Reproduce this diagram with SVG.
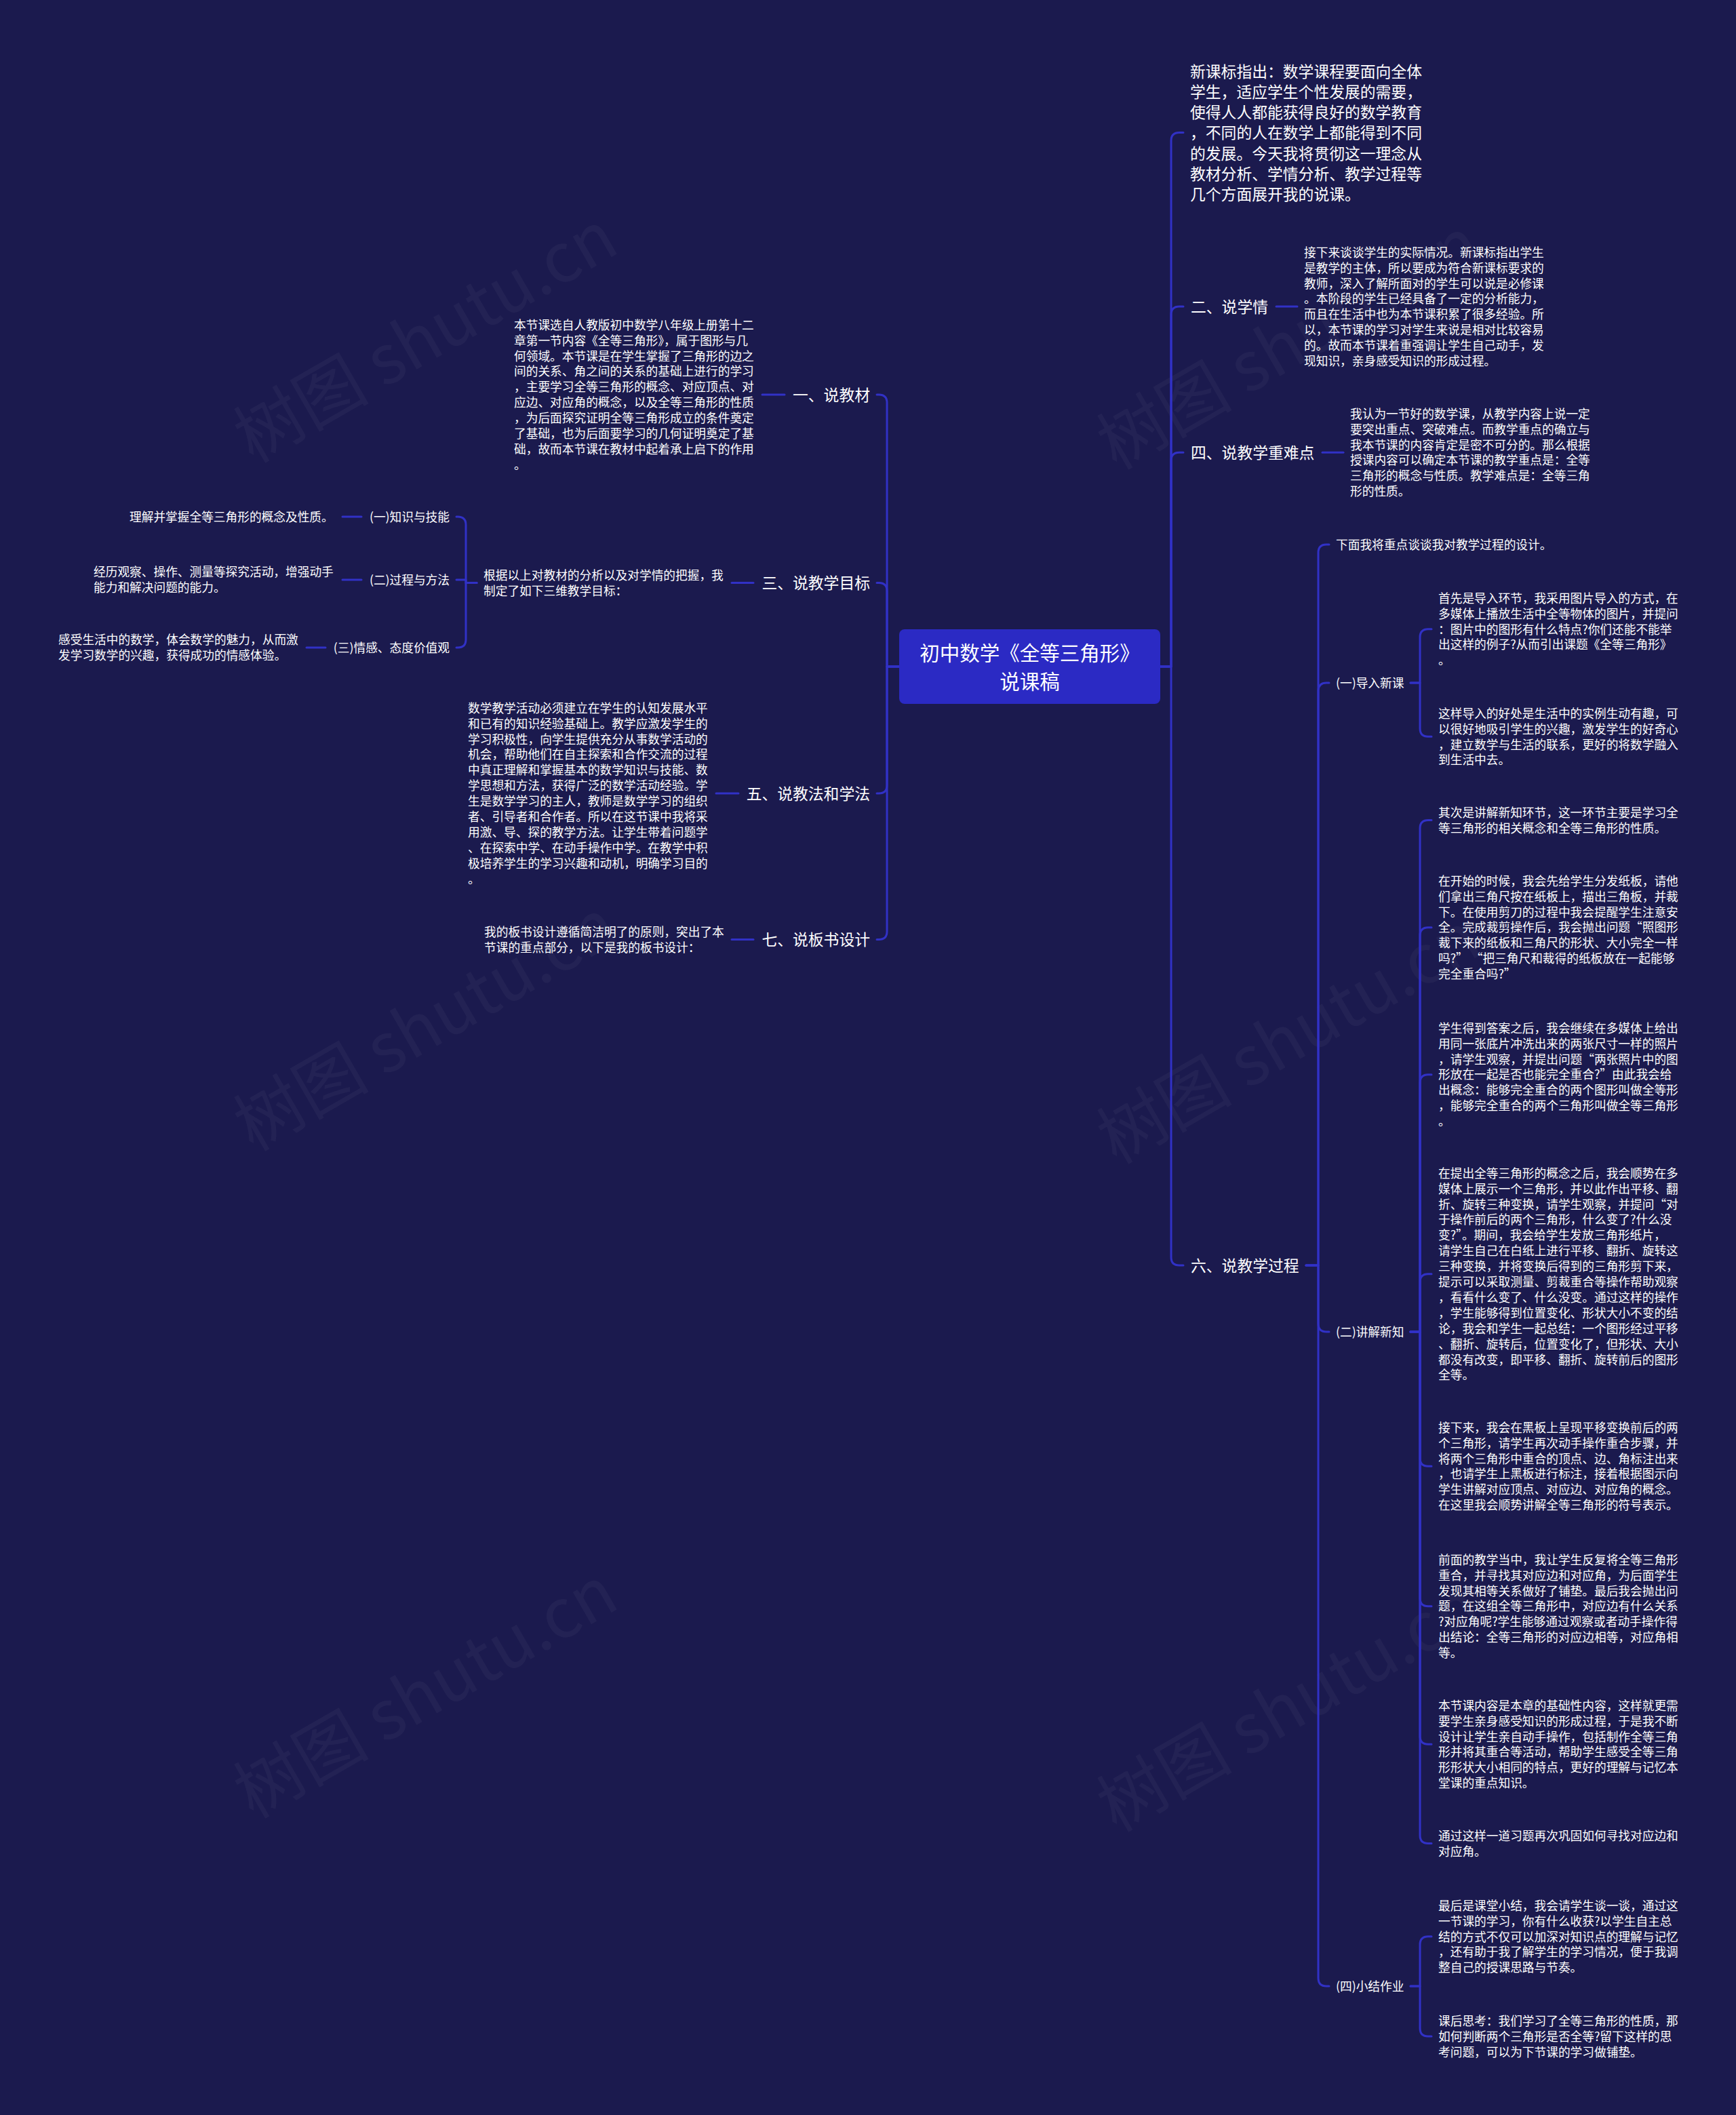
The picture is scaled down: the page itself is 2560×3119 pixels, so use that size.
<svg xmlns="http://www.w3.org/2000/svg" width="2560" height="3119" viewBox="0 0 2560 3119">
<style>
.t{font-family:"Noto Sans CJK SC","Noto Sans",sans-serif;fill:#ffffff;font-size:17.7px}
.lab{font-size:22.8px}
.big{font-size:22.8px}
.root{font-size:29.5px;text-anchor:middle}
.end{text-anchor:end}
.ln{fill:none;stroke:#3131c6;stroke-width:3;stroke-linecap:round;stroke-linejoin:round}
.wm{font-family:"Noto Sans CJK SC","Noto Sans",sans-serif;font-size:100px;fill:#ffffff;fill-opacity:0.04;text-anchor:middle}
</style>
<rect width="2560" height="3119" fill="#1b1a4e"/>
<g id="watermarks">
<text class="wm" transform="translate(645,527) rotate(-30)">树图 shutu.cn</text>
<text class="wm" transform="translate(1918,537) rotate(-30)">树图 shutu.cn</text>
<text class="wm" transform="translate(645,1542) rotate(-30)">树图 shutu.cn</text>
<text class="wm" transform="translate(1918,1561) rotate(-30)">树图 shutu.cn</text>
<text class="wm" transform="translate(645,2526) rotate(-30)">树图 shutu.cn</text>
<text class="wm" transform="translate(1918,2546) rotate(-30)">树图 shutu.cn</text>
</g>
<g id="connectors">
<path class="ln" d="M1711 983 H1727 V207.6 Q1727 195.6 1739 195.6 H1745"/>
<path class="ln" d="M1711 983 H1727 V464 Q1727 452 1739 452 H1745"/>
<path class="ln" d="M1711 983 H1727 V679.25 Q1727 667.25 1739 667.25 H1745"/>
<path class="ln" d="M1711 983 H1727 V1854 Q1727 1866 1739 1866 H1745"/>
<path class="ln" d="M1882 452 H1913"/>
<path class="ln" d="M1950 667.25 H1981"/>
<path class="ln" d="M1926 1866 H1944 V815 Q1944 803 1956 803 H1960"/>
<path class="ln" d="M1926 1866 H1944 V1019 Q1944 1007 1956 1007 H1960"/>
<path class="ln" d="M1926 1866 H1944 V1952 Q1944 1964 1956 1964 H1960"/>
<path class="ln" d="M1926 1866 H1944 V2917 Q1944 2929 1956 2929 H1960"/>
<path class="ln" d="M2080 1007 H2094 V939.8 Q2094 927.8 2106 927.8 H2111"/>
<path class="ln" d="M2080 1007 H2094 V1074.35 Q2094 1086.35 2106 1086.35 H2111"/>
<path class="ln" d="M2080 1964 H2094 V1221.45 Q2094 1209.45 2106 1209.45 H2111"/>
<path class="ln" d="M2080 1964 H2094 V1379.7 Q2094 1367.7 2106 1367.7 H2111"/>
<path class="ln" d="M2080 1964 H2094 V1596.7 Q2094 1584.7 2106 1584.7 H2111"/>
<path class="ln" d="M2080 1964 H2094 V1890.85 Q2094 1878.85 2106 1878.85 H2111"/>
<path class="ln" d="M2080 1964 H2094 V2150.25 Q2094 2162.25 2106 2162.25 H2111"/>
<path class="ln" d="M2080 1964 H2094 V2356.7 Q2094 2368.7 2106 2368.7 H2111"/>
<path class="ln" d="M2080 1964 H2094 V2560.25 Q2094 2572.25 2106 2572.25 H2111"/>
<path class="ln" d="M2080 1964 H2094 V2706.45 Q2094 2718.45 2106 2718.45 H2111"/>
<path class="ln" d="M2080 2929 H2094 V2867.8 Q2094 2855.8 2106 2855.8 H2111"/>
<path class="ln" d="M2080 2929 H2094 V2990.9 Q2094 3002.9 2106 3002.9 H2111"/>
<path class="ln" d="M1326 983 H1308 V594 Q1308 582 1296 582 H1293"/>
<path class="ln" d="M1326 983 H1308 V871.45 Q1308 859.45 1296 859.45 H1293"/>
<path class="ln" d="M1326 983 H1308 V1158 Q1308 1170 1296 1170 H1293"/>
<path class="ln" d="M1326 983 H1308 V1373.45 Q1308 1385.45 1296 1385.45 H1293"/>
<path class="ln" d="M1157 582 H1124"/>
<path class="ln" d="M1111 859.45 H1079"/>
<path class="ln" d="M1089 1170 H1056"/>
<path class="ln" d="M1111 1385.45 H1079"/>
<path class="ln" d="M703 859.45 H687 V774 Q687 762 675 762 H673"/>
<path class="ln" d="M703 859.45 H687 V855 H673"/>
<path class="ln" d="M703 859.45 H687 V943 Q687 955 675 955 H673"/>
<path class="ln" d="M533 762 H505"/>
<path class="ln" d="M533 855 H505"/>
<path class="ln" d="M480 955 H452"/>
</g>
<g id="root">
<rect x="1326" y="928" width="385" height="110" rx="8" fill="#2b2ac4"/>
<text class="t root" x="1518.5" y="974.2">初中数学《全等三角形》</text>
<text class="t root" x="1518.5" y="1016.2">说课稿</text>
</g>
<g id="intro">
<text class="t big"><tspan x="1755" y="113.7">新课标指出：数学课程要面向全体</tspan><tspan x="1755" y="143.9">学生，适应学生个性发展的需要，</tspan><tspan x="1755" y="174.1">使得人人都能获得良好的数学教育</tspan><tspan x="1755" y="204.3">，不同的人在数学上都能得到不同</tspan><tspan x="1755" y="234.5">的发展。今天我将贯彻这一理念从</tspan><tspan x="1755" y="264.7">教材分析、学情分析、教学过程等</tspan><tspan x="1755" y="294.9">几个方面展开我的说课。</tspan></text>
</g>
<g id="n2">
<text class="t lab" x="1756" y="460.7">二、说学情</text>
</g>
<g id="n2-text">
<text class="t"><tspan x="1923" y="378.7">接下来谈谈学生的实际情况。新课标指出学生</tspan><tspan x="1923" y="401.6">是教学的主体，所以要成为符合新课标要求的</tspan><tspan x="1923" y="424.5">教师，深入了解所面对的学生可以说是必修课</tspan><tspan x="1923" y="447.4">。本阶段的学生已经具备了一定的分析能力，</tspan><tspan x="1923" y="470.3">而且在生活中也为本节课积累了很多经验。所</tspan><tspan x="1923" y="493.2">以，本节课的学习对学生来说是相对比较容易</tspan><tspan x="1923" y="516.1">的。故而本节课着重强调让学生自己动手，发</tspan><tspan x="1923" y="539">现知识，亲身感受知识的形成过程。</tspan></text>
</g>
<g id="n4">
<text class="t lab" x="1756" y="675.9">四、说教学重难点</text>
</g>
<g id="n4-text">
<text class="t"><tspan x="1991" y="616.7">我认为一节好的数学课，从教学内容上说一定</tspan><tspan x="1991" y="639.6">要突出重点、突破难点。而教学重点的确立与</tspan><tspan x="1991" y="662.5">我本节课的内容肯定是密不可分的。那么根据</tspan><tspan x="1991" y="685.4">授课内容可以确定本节课的教学重点是：全等</tspan><tspan x="1991" y="708.3">三角形的概念与性质。教学难点是：全等三角</tspan><tspan x="1991" y="731.2">形的性质。</tspan></text>
</g>
<g id="n6">
<text class="t lab" x="1756" y="1874.7">六、说教学过程</text>
</g>
<g id="n6-intro">
<text class="t" x="1970" y="809.7">下面我将重点谈谈我对教学过程的设计。</text>
</g>
<g id="n6-1">
<text class="t" x="1970" y="1013.7">(一)导入新课</text>
</g>
<g id="n6-1a">
<text class="t"><tspan x="2121" y="888.7">首先是导入环节，我采用图片导入的方式，在</tspan><tspan x="2121" y="911.6">多媒体上播放生活中全等物体的图片，并提问</tspan><tspan x="2121" y="934.5">：图片中的图形有什么特点?你们还能不能举</tspan><tspan x="2121" y="957.4">出这样的例子?从而引出课题《全等三角形》</tspan><tspan x="2121" y="980.3">。</tspan></text>
</g>
<g id="n6-1b">
<text class="t"><tspan x="2121" y="1058.7">这样导入的好处是生活中的实例生动有趣，可</tspan><tspan x="2121" y="1081.6">以很好地吸引学生的兴趣，激发学生的好奇心</tspan><tspan x="2121" y="1104.5">，建立数学与生活的联系，更好的将数学融入</tspan><tspan x="2121" y="1127.4">到生活中去。</tspan></text>
</g>
<g id="n6-2">
<text class="t" x="1970" y="1970.7">(二)讲解新知</text>
</g>
<g id="n6-2a">
<text class="t"><tspan x="2121" y="1204.7">其次是讲解新知环节，这一环节主要是学习全</tspan><tspan x="2121" y="1227.6">等三角形的相关概念和全等三角形的性质。</tspan></text>
</g>
<g id="n6-2b">
<text class="t"><tspan x="2121" y="1305.7">在开始的时候，我会先给学生分发纸板，请他</tspan><tspan x="2121" y="1328.6">们拿出三角尺按在纸板上，描出三角板，并裁</tspan><tspan x="2121" y="1351.5">下。在使用剪刀的过程中我会提醒学生注意安</tspan><tspan x="2121" y="1374.4">全。完成裁剪操作后，我会抛出问题“照图形</tspan><tspan x="2121" y="1397.3">裁下来的纸板和三角尺的形状、大小完全一样</tspan><tspan x="2121" y="1420.2">吗?” “把三角尺和裁得的纸板放在一起能够</tspan><tspan x="2121" y="1443.1">完全重合吗?”</tspan></text>
</g>
<g id="n6-2c">
<text class="t"><tspan x="2121" y="1522.7">学生得到答案之后，我会继续在多媒体上给出</tspan><tspan x="2121" y="1545.6">用同一张底片冲洗出来的两张尺寸一样的照片</tspan><tspan x="2121" y="1568.5">，请学生观察，并提出问题“两张照片中的图</tspan><tspan x="2121" y="1591.4">形放在一起是否也能完全重合?”由此我会给</tspan><tspan x="2121" y="1614.3">出概念：能够完全重合的两个图形叫做全等形</tspan><tspan x="2121" y="1637.2">，能够完全重合的两个三角形叫做全等三角形</tspan><tspan x="2121" y="1660.1">。</tspan></text>
</g>
<g id="n6-2d">
<text class="t"><tspan x="2121" y="1736.7">在提出全等三角形的概念之后，我会顺势在多</tspan><tspan x="2121" y="1759.6">媒体上展示一个三角形，并以此作出平移、翻</tspan><tspan x="2121" y="1782.5">折、旋转三种变换，请学生观察，并提问“对</tspan><tspan x="2121" y="1805.4">于操作前后的两个三角形，什么变了?什么没</tspan><tspan x="2121" y="1828.3">变?”。期间，我会给学生发放三角形纸片，</tspan><tspan x="2121" y="1851.2">请学生自己在白纸上进行平移、翻折、旋转这</tspan><tspan x="2121" y="1874.1">三种变换，并将变换后得到的三角形剪下来，</tspan><tspan x="2121" y="1897">提示可以采取测量、剪裁重合等操作帮助观察</tspan><tspan x="2121" y="1919.9">，看看什么变了、什么没变。通过这样的操作</tspan><tspan x="2121" y="1942.8">，学生能够得到位置变化、形状大小不变的结</tspan><tspan x="2121" y="1965.7">论，我会和学生一起总结：一个图形经过平移</tspan><tspan x="2121" y="1988.6">、翻折、旋转后，位置变化了，但形状、大小</tspan><tspan x="2121" y="2011.5">都没有改变，即平移、翻折、旋转前后的图形</tspan><tspan x="2121" y="2034.4">全等。</tspan></text>
</g>
<g id="n6-2e">
<text class="t"><tspan x="2121" y="2111.7">接下来，我会在黑板上呈现平移变换前后的两</tspan><tspan x="2121" y="2134.6">个三角形，请学生再次动手操作重合步骤，并</tspan><tspan x="2121" y="2157.5">将两个三角形中重合的顶点、边、角标注出来</tspan><tspan x="2121" y="2180.4">，也请学生上黑板进行标注，接着根据图示向</tspan><tspan x="2121" y="2203.3">学生讲解对应顶点、对应边、对应角的概念。</tspan><tspan x="2121" y="2226.2">在这里我会顺势讲解全等三角形的符号表示。</tspan></text>
</g>
<g id="n6-2f">
<text class="t"><tspan x="2121" y="2306.7">前面的教学当中，我让学生反复将全等三角形</tspan><tspan x="2121" y="2329.6">重合，并寻找其对应边和对应角，为后面学生</tspan><tspan x="2121" y="2352.5">发现其相等关系做好了铺垫。最后我会抛出问</tspan><tspan x="2121" y="2375.4">题，在这组全等三角形中，对应边有什么关系</tspan><tspan x="2121" y="2398.3">?对应角呢?学生能够通过观察或者动手操作得</tspan><tspan x="2121" y="2421.2">出结论：全等三角形的对应边相等，对应角相</tspan><tspan x="2121" y="2444.1">等。</tspan></text>
</g>
<g id="n6-2g">
<text class="t"><tspan x="2121" y="2521.7">本节课内容是本章的基础性内容，这样就更需</tspan><tspan x="2121" y="2544.6">要学生亲身感受知识的形成过程，于是我不断</tspan><tspan x="2121" y="2567.5">设计让学生亲自动手操作，包括制作全等三角</tspan><tspan x="2121" y="2590.4">形并将其重合等活动，帮助学生感受全等三角</tspan><tspan x="2121" y="2613.3">形形状大小相同的特点，更好的理解与记忆本</tspan><tspan x="2121" y="2636.2">堂课的重点知识。</tspan></text>
</g>
<g id="n6-2h">
<text class="t"><tspan x="2121" y="2713.7">通过这样一道习题再次巩固如何寻找对应边和</tspan><tspan x="2121" y="2736.6">对应角。</tspan></text>
</g>
<g id="n6-4">
<text class="t" x="1970" y="2936">(四)小结作业</text>
</g>
<g id="n6-4a">
<text class="t"><tspan x="2121" y="2816.7">最后是课堂小结，我会请学生谈一谈，通过这</tspan><tspan x="2121" y="2839.6">一节课的学习，你有什么收获?以学生自主总</tspan><tspan x="2121" y="2862.5">结的方式不仅可以加深对知识点的理解与记忆</tspan><tspan x="2121" y="2885.4">，还有助于我了解学生的学习情况，便于我调</tspan><tspan x="2121" y="2908.3">整自己的授课思路与节奏。</tspan></text>
</g>
<g id="n6-4b">
<text class="t"><tspan x="2121" y="2986.7">课后思考：我们学习了全等三角形的性质，那</tspan><tspan x="2121" y="3009.6">如何判断两个三角形是否全等?留下这样的思</tspan><tspan x="2121" y="3032.5">考问题，可以为下节课的学习做铺垫。</tspan></text>
</g>
<g id="n1">
<text class="t lab end" x="1283" y="590.7">一、说教材</text>
</g>
<g id="n1-text">
<text class="t"><tspan x="758" y="485.7">本节课选自人教版初中数学八年级上册第十二</tspan><tspan x="758" y="508.6">章第一节内容《全等三角形》，属于图形与几</tspan><tspan x="758" y="531.5">何领域。本节课是在学生掌握了三角形的边之</tspan><tspan x="758" y="554.4">间的关系、角之间的关系的基础上进行的学习</tspan><tspan x="758" y="577.3">，主要学习全等三角形的概念、对应顶点、对</tspan><tspan x="758" y="600.2">应边、对应角的概念，以及全等三角形的性质</tspan><tspan x="758" y="623.1">，为后面探究证明全等三角形成立的条件奠定</tspan><tspan x="758" y="646">了基础，也为后面要学习的几何证明奠定了基</tspan><tspan x="758" y="668.9">础，故而本节课在教材中起着承上启下的作用</tspan><tspan x="758" y="691.8">。</tspan></text>
</g>
<g id="n3">
<text class="t lab end" x="1283" y="868.2">三、说教学目标</text>
</g>
<g id="n3-text">
<text class="t"><tspan x="713" y="854.7">根据以上对教材的分析以及对学情的把握，我</tspan><tspan x="713" y="877.6">制定了如下三维教学目标：</tspan></text>
</g>
<g id="n3-1">
<text class="t end" x="663" y="768.7">(一)知识与技能</text>
</g>
<g id="n3-1a">
<text class="t" x="191" y="768.7">理解并掌握全等三角形的概念及性质。</text>
</g>
<g id="n3-2">
<text class="t end" x="663" y="861.7">(二)过程与方法</text>
</g>
<g id="n3-2a">
<text class="t"><tspan x="138" y="850.2">经历观察、操作、测量等探究活动，增强动手</tspan><tspan x="138" y="873.1">能力和解决问题的能力。</tspan></text>
</g>
<g id="n3-3">
<text class="t end" x="663" y="961.7">(三)情感、态度价值观</text>
</g>
<g id="n3-3a">
<text class="t"><tspan x="86" y="950.2">感受生活中的数学，体会数学的魅力，从而激</tspan><tspan x="86" y="973.1">发学习数学的兴趣，获得成功的情感体验。</tspan></text>
</g>
<g id="n5">
<text class="t lab end" x="1283" y="1178.7">五、说教法和学法</text>
</g>
<g id="n5-text">
<text class="t"><tspan x="690" y="1050.7">数学教学活动必须建立在学生的认知发展水平</tspan><tspan x="690" y="1073.6">和已有的知识经验基础上。教学应激发学生的</tspan><tspan x="690" y="1096.5">学习积极性，向学生提供充分从事数学活动的</tspan><tspan x="690" y="1119.4">机会，帮助他们在自主探索和合作交流的过程</tspan><tspan x="690" y="1142.3">中真正理解和掌握基本的数学知识与技能、数</tspan><tspan x="690" y="1165.2">学思想和方法，获得广泛的数学活动经验。学</tspan><tspan x="690" y="1188.1">生是数学学习的主人，教师是数学学习的组织</tspan><tspan x="690" y="1211">者、引导者和合作者。所以在这节课中我将采</tspan><tspan x="690" y="1233.9">用激、导、探的教学方法。让学生带着问题学</tspan><tspan x="690" y="1256.8">、在探索中学、在动手操作中学。在教学中积</tspan><tspan x="690" y="1279.7">极培养学生的学习兴趣和动机，明确学习目的</tspan><tspan x="690" y="1302.6">。</tspan></text>
</g>
<g id="n7">
<text class="t lab end" x="1283" y="1394.2">七、说板书设计</text>
</g>
<g id="n7-text">
<text class="t"><tspan x="714" y="1380.7">我的板书设计遵循简洁明了的原则，突出了本</tspan><tspan x="714" y="1403.6">节课的重点部分，以下是我的板书设计：</tspan></text>
</g>
</svg>
